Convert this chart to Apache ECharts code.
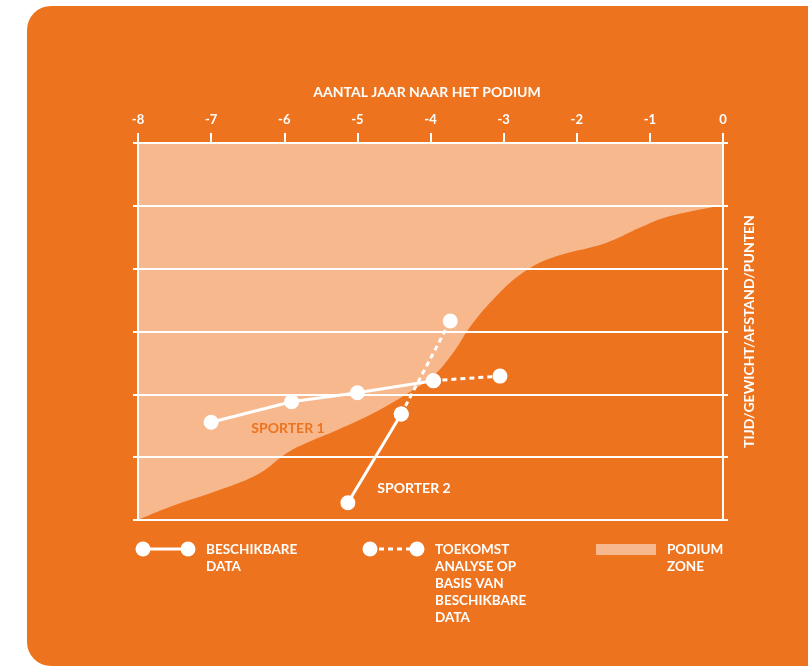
<!DOCTYPE html>
<html>
<head>
<meta charset="utf-8">
<script src="https://cdn.jsdelivr.net/npm/echarts@6/dist/echarts.min.js"></script>
<style>
html,body{margin:0;padding:0;background:#fff;}
#c{width:808px;height:666px;}
</style>
</head>
<body>
<div id="c"></div>
<script>
const xTicks = [-8, -7, -6, -5, -4, -3, -2, -1, 0];
const podiumCurve = [
  [-8, 0], [-7.56, 0.21], [-6.88, 0.48], [-6.33, 0.75], [-5.96, 1.07], [-5.69, 1.23],
  [-5.28, 1.43], [-4.83, 1.67], [-4.46, 1.91], [-4.24, 2.07], [-3.97, 2.28], [-3.69, 2.66],
  [-3.46, 3.07], [-3.15, 3.50], [-2.78, 3.90], [-2.35, 4.17], [-1.60, 4.41], [-1.14, 4.65],
  [-0.78, 4.82], [0, 5.01]
];
const sporter1 = [[-7, 1.555], [-5.9, 1.883], [-5, 2.026], [-3.96, 2.217]];
const sporter1Future = [[-3.96, 2.217], [-3.05, 2.29]];
const sporter2 = [[-5.13, 0.275], [-4.40, 1.687]];
const sporter2Future = [[-4.40, 1.687], [-3.73, 3.167]];

const ORANGE = '#EE731E';
const PEACH = '#F7B88D';
const FONT = 'Lato';

const chart = echarts.init(document.getElementById('c'));

const lineSeries = (data, dashed) => ({
  type: 'line',
  data: data,
  z: 10,
  symbol: 'circle',
  symbolSize: 15,
  showSymbol: true,
  itemStyle: { color: '#fff' },
  lineStyle: { color: '#fff', width: 3, type: dashed ? [5, 4] : 'solid' },
  animation: false
});

const legendFont = 'bold 13.5px ' + FONT;

chart.setOption({
  animation: false,
  graphic: [
    { type: 'rect', z: -10, shape: { x: 27, y: 6, width: 820, height: 660, r: [24, 0, 0, 24] }, style: { fill: ORANGE } },
    // legend 1
    { type: 'line', shape: { x1: 143, y1: 549, x2: 188, y2: 549 }, style: { stroke: '#fff', lineWidth: 3 } },
    { type: 'circle', shape: { cx: 143, cy: 549, r: 7.5 }, style: { fill: '#fff' } },
    { type: 'circle', shape: { cx: 188, cy: 549, r: 7.5 }, style: { fill: '#fff' } },
    { type: 'text', x: 206, y: 541, style: { text: 'BESCHIKBARE\nDATA', fill: '#fff', font: legendFont, lineHeight: 17 } },
    // legend 2
    { type: 'line', shape: { x1: 370, y1: 549, x2: 417, y2: 549 }, style: { stroke: '#fff', lineWidth: 3, lineDash: [5, 4] } },
    { type: 'circle', shape: { cx: 370, cy: 549, r: 7.5 }, style: { fill: '#fff' } },
    { type: 'circle', shape: { cx: 417, cy: 549, r: 7.5 }, style: { fill: '#fff' } },
    { type: 'text', x: 435, y: 541, style: { text: 'TOEKOMST\nANALYSE OP\nBASIS VAN\nBESCHIKBARE\nDATA', fill: '#fff', font: legendFont, lineHeight: 17 } },
    // legend 3
    { type: 'rect', shape: { x: 596, y: 544, width: 60, height: 11 }, style: { fill: PEACH } },
    { type: 'text', x: 667, y: 541, style: { text: 'PODIUM\nZONE', fill: '#fff', font: legendFont, lineHeight: 17 } },
    // sporter labels
    { type: 'text', x: 288, y: 428, z: 20, style: { text: 'SPORTER 1', fill: ORANGE, font: 'bold 14px ' + FONT, align: 'center', verticalAlign: 'middle' } },
    { type: 'text', x: 414, y: 488, z: 20, style: { text: 'SPORTER 2', fill: '#fff', font: 'bold 14px ' + FONT, align: 'center', verticalAlign: 'middle' } }
  ],
  grid: { left: 138, right: 85, top: 143, bottom: 146 },
  xAxis: {
    type: 'value', position: 'top', min: -8, max: 0, interval: 1, z: 5,
    name: 'AANTAL JAAR NAAR HET PODIUM', nameLocation: 'middle', nameGap: 44,
    nameTextStyle: { color: '#fff', fontFamily: FONT, fontWeight: 'bold', fontSize: 14, padding: [0, 7, 0, 0] },
    axisLine: { show: true, onZero: false, lineStyle: { color: '#fff', width: 2 } },
    axisTick: { show: true, length: 10, lineStyle: { color: '#fff', width: 2 } },
    axisLabel: { color: '#fff', fontFamily: FONT, fontWeight: 'bold', fontSize: 13, margin: 17,
      formatter: v => xTicks.includes(v) ? String(v) : '' },
    splitLine: { show: false }
  },
  yAxis: [
    {
      type: 'value', position: 'left', min: 0, max: 6, interval: 1, z: 5,
      axisLine: { show: true, onZero: false, lineStyle: { color: '#fff', width: 2 } },
      axisTick: { show: true, length: 5, lineStyle: { color: '#fff', width: 2 } },
      axisLabel: { show: false },
      splitLine: { show: true, lineStyle: { color: '#fff', width: 2 } }
    },
    {
      type: 'value', position: 'right', min: 0, max: 6, interval: 1, z: 5,
      name: 'TIJD/GEWICHT/AFSTAND/PUNTEN', nameLocation: 'middle', nameGap: 19, nameRotate: 90,
      nameTextStyle: { color: '#fff', fontFamily: FONT, fontWeight: 'bold', fontSize: 14 },
      axisLine: { show: true, onZero: false, lineStyle: { color: '#fff', width: 2 } },
      axisTick: { show: true, length: 5, lineStyle: { color: '#fff', width: 2 } },
      axisLabel: { show: false },
      splitLine: { show: false }
    }
  ],
  series: [
    {
      type: 'line', data: podiumCurve, smooth: 0.4, symbol: 'none', z: 1,
      lineStyle: { width: 0 },
      areaStyle: { color: PEACH, opacity: 1, origin: 'end' },
      silent: true
    },
    lineSeries(sporter1, false),
    lineSeries(sporter1Future, true),
    lineSeries(sporter2, false),
    lineSeries(sporter2Future, true)
  ]
});
</script>
</body>
</html>
